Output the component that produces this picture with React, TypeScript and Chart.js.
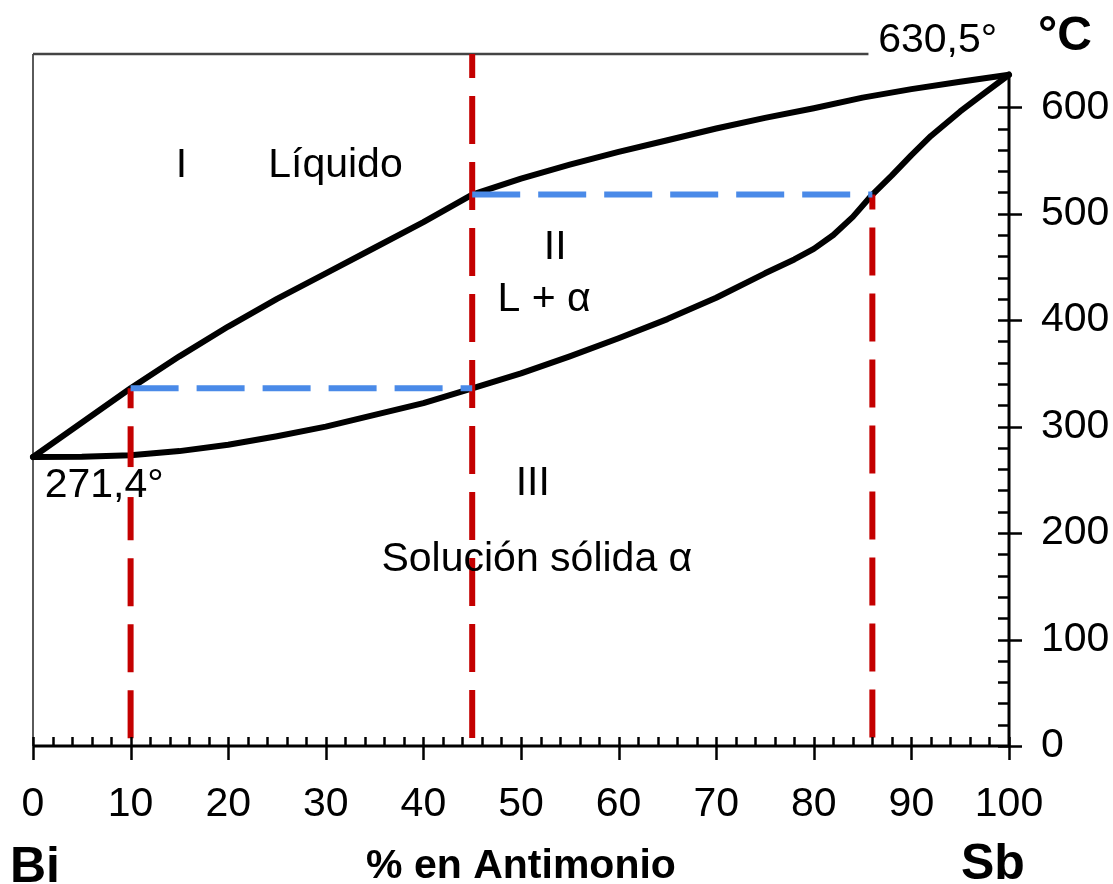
import React, { useEffect, useRef } from 'react';
import { Chart, registerables } from 'chart.js';

Chart.register(...registerables);

// ---- data ----
const BI_MELT = 271.4;
const SB_MELT = 630.5;
const Y_MAX = 650;

const LIQ_X = [0, 10, 15, 20, 25, 30, 35, 40, 45, 50, 55, 60, 65, 70, 75, 80, 85, 90, 95, 100];
const LIQ_Y = [271.4, 336, 366, 394, 420, 444, 468, 492, 518, 533, 546, 558, 569, 580, 590, 599, 609, 617, 624, 630.5];

const SOL_X = [0, 5, 10, 15, 20, 25, 30, 35, 40, 45, 50, 55, 60, 65, 70, 75, 78, 80, 82, 84, 86, 88, 90, 92, 95, 97, 100];
const SOL_Y = [271.4, 271.6, 273, 277, 283, 291, 300, 311, 322, 336, 350, 366, 383, 401, 421, 444, 457, 467, 480, 497, 518, 536, 555, 573, 596, 610, 630.5];

const COMPOSITIONS = [10, 45, 86];      // vertical cooling lines (% Sb)
const COMP_TOP = [336, Y_MAX, 518];      // where each vertical line starts
const TIE_TEMPS = [336, 518];            // horizontal tie lines
const TIE_FROM = [10, 45];
const TIE_TO = [45, 86];
const TOP_LINE_END = 85.6;

const X_TICK_STEP = 10;
const Y_TICK_STEP = 100;
const Y_TICK_MAX = 600;

const FONT = "'Liberation Sans', Arial, Helvetica, sans-serif";
const RED = '#c40000';
const BLUE = '#4a8ae8';

const overlay = {
  id: 'overlay',
  beforeDatasetsDraw(chart: any) {
    const ctx = chart.ctx;
    const xs = chart.scales.x;
    const ys = chart.scales.y;
    const { left, bottom } = chart.chartArea;
    ctx.save();
    ctx.lineCap = 'butt';
    // left frame
    ctx.strokeStyle = '#5a5a5a';
    ctx.lineWidth = 2;
    ctx.beginPath();
    ctx.moveTo(left, bottom);
    ctx.lineTo(left, ys.getPixelForValue(Y_MAX));
    ctx.stroke();
    // top frame
    ctx.strokeStyle = '#444';
    ctx.lineWidth = 2.5;
    ctx.beginPath();
    const ty = ys.getPixelForValue(Y_MAX);
    ctx.moveTo(left, ty);
    ctx.lineTo(xs.getPixelForValue(TOP_LINE_END), ty);
    ctx.stroke();
    ctx.restore();
  },
  afterDatasetsDraw(chart: any) {
    const ctx = chart.ctx;
    const xs = chart.scales.x;
    const ys = chart.scales.y;
    const { left, right, bottom } = chart.chartArea;
    const X = (v: number) => xs.getPixelForValue(v);
    const Y = (v: number) => ys.getPixelForValue(v);
    ctx.save();
    ctx.strokeStyle = '#000';
    ctx.lineCap = 'butt';
    // axes
    ctx.lineWidth = 3;
    ctx.beginPath();
    ctx.moveTo(left, bottom);
    ctx.lineTo(right, bottom);
    ctx.moveTo(right, bottom);
    ctx.lineTo(right, Y(SB_MELT) - 3);
    ctx.stroke();
    // x ticks
    ctx.lineWidth = 2.5;
    ctx.beginPath();
    for (let v = 0; v <= 100; v += 2) {
      const px = Math.round(X(v)) + 0.5;
      if (v % X_TICK_STEP === 0) {
        ctx.moveTo(px, bottom - 9);
        ctx.lineTo(px, bottom + 14);
      } else {
        ctx.moveTo(px, bottom - 9);
        ctx.lineTo(px, bottom);
      }
    }
    // y ticks
    for (let v = 0; v <= Y_TICK_MAX; v += 20) {
      const py = Math.round(Y(v)) + 0.5;
      if (v % Y_TICK_STEP === 0) {
        ctx.moveTo(right - 11, py);
        ctx.lineTo(right + 13, py);
      } else {
        ctx.moveTo(right - 11, py);
        ctx.lineTo(right, py);
      }
    }
    ctx.stroke();

    // texts
    ctx.fillStyle = '#000';
    ctx.textBaseline = 'alphabetic';
    const normal = `41px ${FONT}`;
    const txt = (s: string, x: number, y: number, align: CanvasTextAlign = 'left', font = normal) => {
      ctx.font = font;
      ctx.textAlign = align;
      ctx.fillText(s, x, y);
    };
    txt('I', X(15.2), Y(534), 'center');
    txt('Líquido', X(24.1), Y(534));
    txt('II', X(53.5), Y(457), 'center');
    txt('L + α', X(47.6), Y(409));
    txt('III', X(51.2), Y(236), 'center');
    txt('Solución sólida α', X(35.7), Y(164.6));
    txt('630,5°', X(86.6), Y(651.7));
    // 271,4° with white background
    ctx.fillStyle = '#fff';
    ctx.fillRect(X(1.2), Y(BI_MELT) + 10, 118, 30);
    ctx.fillStyle = '#000';
    txt('271,4°', X(1.2), Y(234));
    // outer labels
    const bold = (s: number) => `bold ${s}px ${FONT}`;
    txt('°C', right + 29, 50, 'left', bold(48));
    txt('Bi', 10, 882, 'left', bold(50));
    txt('Sb', 961, 879, 'left', bold(50));
    txt('% en Antimonio', (left + right) / 2, 878, 'center', bold(41));
    ctx.restore();
  },
};

function pts(xs: number[], ys: number[]) {
  return xs.map((x, i) => ({ x, y: ys[i] }));
}

export default function App() {
  const ref = useRef<HTMLCanvasElement>(null);
  useEffect(() => {
    const canvas = ref.current!;
    const dashed = (color: string, data: any[], offset: number) => ({
      data,
      borderColor: color,
      borderWidth: 6,
      borderDash: [48, 18],
      borderDashOffset: offset,
      pointRadius: 0,
      showLine: true,
      fill: false,
      clip: false,
    });
    const blueSets = TIE_TEMPS.map((t, i) =>
      dashed(BLUE, [{ x: TIE_FROM[i], y: t }, { x: TIE_TO[i], y: t }], 0)
    );
    const redOffsets = [28, 24, 33];
    const redSets = COMPOSITIONS.map((c, i) =>
      dashed(RED, [{ x: c, y: COMP_TOP[i] }, { x: c, y: 0 }], redOffsets[i])
    );
    const curve = (data: any[]) => ({
      data,
      borderColor: '#000',
      borderWidth: 6,
      pointRadius: 0,
      showLine: true,
      fill: false,
      tension: 0,
      borderJoinStyle: 'round',
      borderCapStyle: 'round',
      clip: false,
    });
    const chart = new Chart(canvas, {
      type: 'scatter',
      data: {
        datasets: [
          ...blueSets,
          ...redSets,
          curve(pts(LIQ_X, LIQ_Y)),
          curve(pts(SOL_X, SOL_Y)),
        ] as any,
      },
      options: {
        responsive: false,
        animation: false,
        layout: { padding: { left: 33, top: 54, right: 0, bottom: 0 } },
        plugins: { legend: { display: false }, tooltip: { enabled: false } },
        scales: {
          x: {
            type: 'linear',
            position: 'bottom',
            min: 0,
            max: 100,
            grid: { display: false, drawTicks: false },
            border: { display: false },
            ticks: {
              stepSize: X_TICK_STEP,
              color: '#000',
              font: { family: FONT, size: 41 },
              padding: 34,
              maxRotation: 0,
              autoSkip: false,
            },
            afterFit: (s: any) => {
              s.height = 138;
              s.paddingLeft = 0;
              s.paddingRight = 0;
            },
          },
          y: {
            type: 'linear',
            position: 'right',
            min: 0,
            max: Y_MAX,
            grid: { display: false, drawTicks: false },
            border: { display: false },
            ticks: {
              stepSize: Y_TICK_STEP,
              color: '#000',
              font: { family: FONT, size: 41 },
              padding: 32,
              autoSkip: false,
            },
            afterBuildTicks: (s: any) => {
              s.ticks = s.ticks.filter((t: any) => t.value <= Y_TICK_MAX);
            },
            afterFit: (s: any) => {
              s.width = 104;
              s.paddingTop = 0;
              s.paddingBottom = 0;
            },
          },
        },
      } as any,
      plugins: [overlay],
    });
    return () => chart.destroy();
  }, []);
  return (
    <div style={{ position: 'absolute', left: 0, top: 0, width: 1113, height: 884, background: '#fff' }}>
      <canvas ref={ref} width={1113} height={884} style={{ display: 'block', width: 1113, height: 884 }} />
    </div>
  );
}
